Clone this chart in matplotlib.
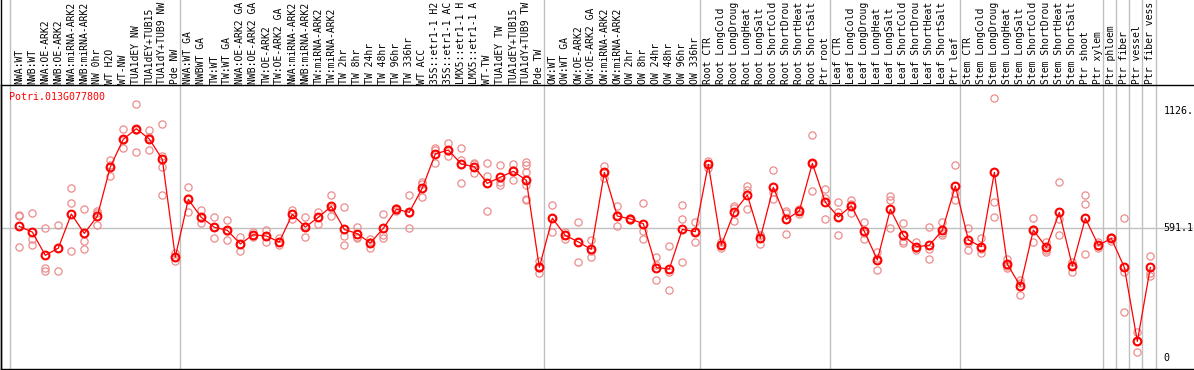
import matplotlib
matplotlib.use("Agg")
import matplotlib.pyplot as plt
import numpy as np

gene = "Potri.013G077800"

# column labels as far as they are visible in the header strip
labels = [
    "NWA:WT", "NWB:WT", "NWA:OE-ARK2", "NWB:OE-ARK2", "NWA:miRNA-ARK2", "NWB:miRNA-ARK2",
    "NW 0hr", "WT H2O", "WT-NW", "TUA1dEY NW", "TUA1dEY+TUB15", "TUA1dY+TUB9 NW", "Pde NW",
    "NWA:WT GA", "NWBWT GA", "TW:WT", "TW:WT GA", "NWA:OE-ARK2 GA", "NWB:OE-ARK2 GA",
    "TW:OE-ARK2", "TW:OE-ARK2 GA", "NWA:miRNA-ARK2", "NWB:miRNA-ARK2", "TW:miRNA-ARK2",
    "TW:miRNA-ARK2", "TW 2hr", "TW 8hr", "TW 24hr", "TW 48hr", "TW 96hr", "TW 336hr", "WT ACC",
    "35S::etr1-1 H2", "35S::etr1-1 AC", "LMX5::etr1-1 H", "LMX5::etr1-1 A", "WT-TW",
    "TUA1dEY TW", "TUA1dEY+TUB15", "TUA1dY+TUB9 TW", "Pde TW",
    "OW:WT", "OW:WT GA", "OW:OE-ARK2", "OW:OE-ARK2 GA", "OW:miRNA-ARK2", "OW:miRNA-ARK2",
    "OW 2hr", "OW 8hr", "OW 24hr", "OW 48hr", "OW 96hr", "OW 336hr",
    "Root CTR", "Root LongCold", "Root LongDroug", "Root LongHeat", "Root LongSalt",
    "Root ShortCold", "Root ShortDrou", "Root ShortHeat", "Root ShortSalt", "Ptr root",
    "Leaf CTR", "Leaf LongCold", "Leaf LongDroug", "Leaf LongHeat", "Leaf LongSalt",
    "Leaf ShortCold", "Leaf ShortDrou", "Leaf ShortHeat", "Leaf ShortSalt", "Ptr leaf",
    "Stem CTR", "Stem LongCold", "Stem LongDroug", "Stem LongHeat", "Stem LongSalt",
    "Stem ShortCold", "Stem ShortDrou", "Stem ShortHeat", "Stem ShortSalt", "Ptr shoot",
    "Ptr xylem", "Ptr phloem", "Ptr fiber", "Ptr vessel", "Ptr fiber vess",
]

means = [
    600, 574, 468, 501, 656, 568, 646, 871, 997, 1045, 998, 906, 460,
    723, 641, 596, 582, 520, 562, 556, 529, 655, 597, 641, 691, 586, 567, 524,
    591, 678, 664, 775, 930, 948, 884, 872, 796, 824, 851, 810, 413,
    637, 559, 529, 495, 846, 647, 634, 612, 412, 406, 586, 576,
    883, 515, 667, 743, 547, 778, 632, 670, 887, 710,
    643, 694, 577, 447, 678, 559, 507, 514, 582, 784,
    538, 507, 846, 427, 328, 583, 504, 664, 419, 637, 514,
    545, 413, 76, 413,
]

reps = [
    [650, 646, 504], [659, 542, 517], [591, 412, 398], [605, 503, 397], [775, 705, 486],
    [678, 532, 495], [672, 659, 606], [903, 881, 828], [1042, 992, 956], [1158, 1041, 937],
    [1039, 1009, 947], [1065, 922, 872, 743], [477, 460, 444],
    [778, 728, 664], [673, 637, 614], [643, 599, 545], [629, 580, 536], [552, 521, 486],
    [574, 561, 552], [582, 556, 530], [545, 529, 515], [676, 655, 632], [641, 600, 550],
    [667, 641, 612], [741, 685, 647], [687, 558, 514], [597, 553, 549], [542, 530, 500],
    [655, 559, 547], [685, 678, 670], [741, 659, 591], [801, 792, 732], [959, 947, 890],
    [978, 945, 921], [956, 903, 796], [889, 886, 842], [887, 830, 670], [878, 804, 789],
    [886, 857, 810], [895, 880, 846, 789, 726, 719], [442, 412, 386],
    [696, 640, 574], [576, 559, 542], [620, 529, 438], [539, 488, 459], [875, 845, 819],
    [691, 650, 600], [640, 634, 628], [705, 580, 541], [459, 422, 354], [509, 391, 308],
    [696, 632, 436], [620, 580, 527],
    [898, 883, 868], [527, 515, 500], [694, 684, 623], [786, 767, 678], [561, 559, 521],
    [855, 755, 723], [670, 662, 564], [678, 670, 658], [1015, 884, 763], [769, 728, 632],
    [711, 664, 559], [722, 702, 659], [620, 568, 544], [485, 456, 400], [737, 720, 591],
    [615, 533, 524], [530, 500, 492], [596, 497, 450], [620, 568, 559], [878, 754, 720],
    [594, 526, 494], [547, 498, 477], [1184, 710, 641], [451, 421, 409], [356, 343, 286],
    [637, 586, 527], [530, 492, 485], [801, 632, 559], [439, 425, 394], [743, 700, 474],
    [530, 511, 500],
    [553, 545, 533], [637, 391, 208], [120, 79, 29], [463, 386, 375],
]

# first column of every group (gray separators drawn before them)
group_starts = [13, 41, 53, 63, 73, 84, 85, 86, 87]
ref_value = 591.1
scale_values = [1126, 591.1, 0]
scale_labels = ["1126.", "591.1", "0"]

W, H = 1194, 370
fig = plt.figure(figsize=(W / 100, H / 100), dpi=100)
ax = fig.add_axes([1 / W, 1 / H, 1192 / W, 284 / H])

n = len(labels)
x = np.arange(n)
ax.set_xlim(-1.408, 90.28)
ax.set_ylim(-50.1, 1244.3)
ax.set_xticks([])
ax.set_yticks([])
for s in ["top", "bottom", "left"]:
    ax.spines[s].set_linewidth(1.0)
    ax.spines[s].set_color("black")
ax.spines["right"].set_visible(False)

gray = "#c0c0c0"
seps = [-0.69] + [g - 0.62 for g in group_starts] + [n - 1 + 0.42]
ax.vlines(seps, 0, 1.31, transform=ax.get_xaxis_transform(), colors=gray,
          linewidth=1.0, clip_on=False, zorder=1)
ax.axhline(ref_value, color=gray, linewidth=1.0, zorder=1)

# left border through the label area
fig.add_artist(plt.Line2D([0.5 / W, 0.5 / W], [0, 1], color="black", linewidth=1.0))

for i, r in enumerate(reps):
    ax.plot([i] * len(r), r, linestyle="none", marker="o", markersize=5.2,
            markerfacecolor="none", markeredgecolor="#ec8c8c", markeredgewidth=0.9, zorder=2)

ax.plot(x, means, color="red", linewidth=0.9, zorder=3)
ax.plot(x, means, linestyle="none", marker="o", markersize=5.6, markerfacecolor="none",
        markeredgecolor="red", markeredgewidth=1.5, zorder=4)

mono = "DejaVu Sans Mono"
for i, lab in enumerate(labels):
    ax.text(i, 1.005, lab, transform=ax.get_xaxis_transform(), rotation=90,
            ha="center", va="bottom", fontsize=7.0, family=mono, clip_on=False)

ax.text(0.007, 0.958, gene, transform=ax.transAxes, color="red", fontsize=7.2,
        family=mono, ha="left", va="center")

for v, s in zip(scale_values, scale_labels):
    ax.text(88.0, v, s, ha="left", va="center", fontsize=7.2, family=mono)

fig.savefig("out.png", dpi=100)
